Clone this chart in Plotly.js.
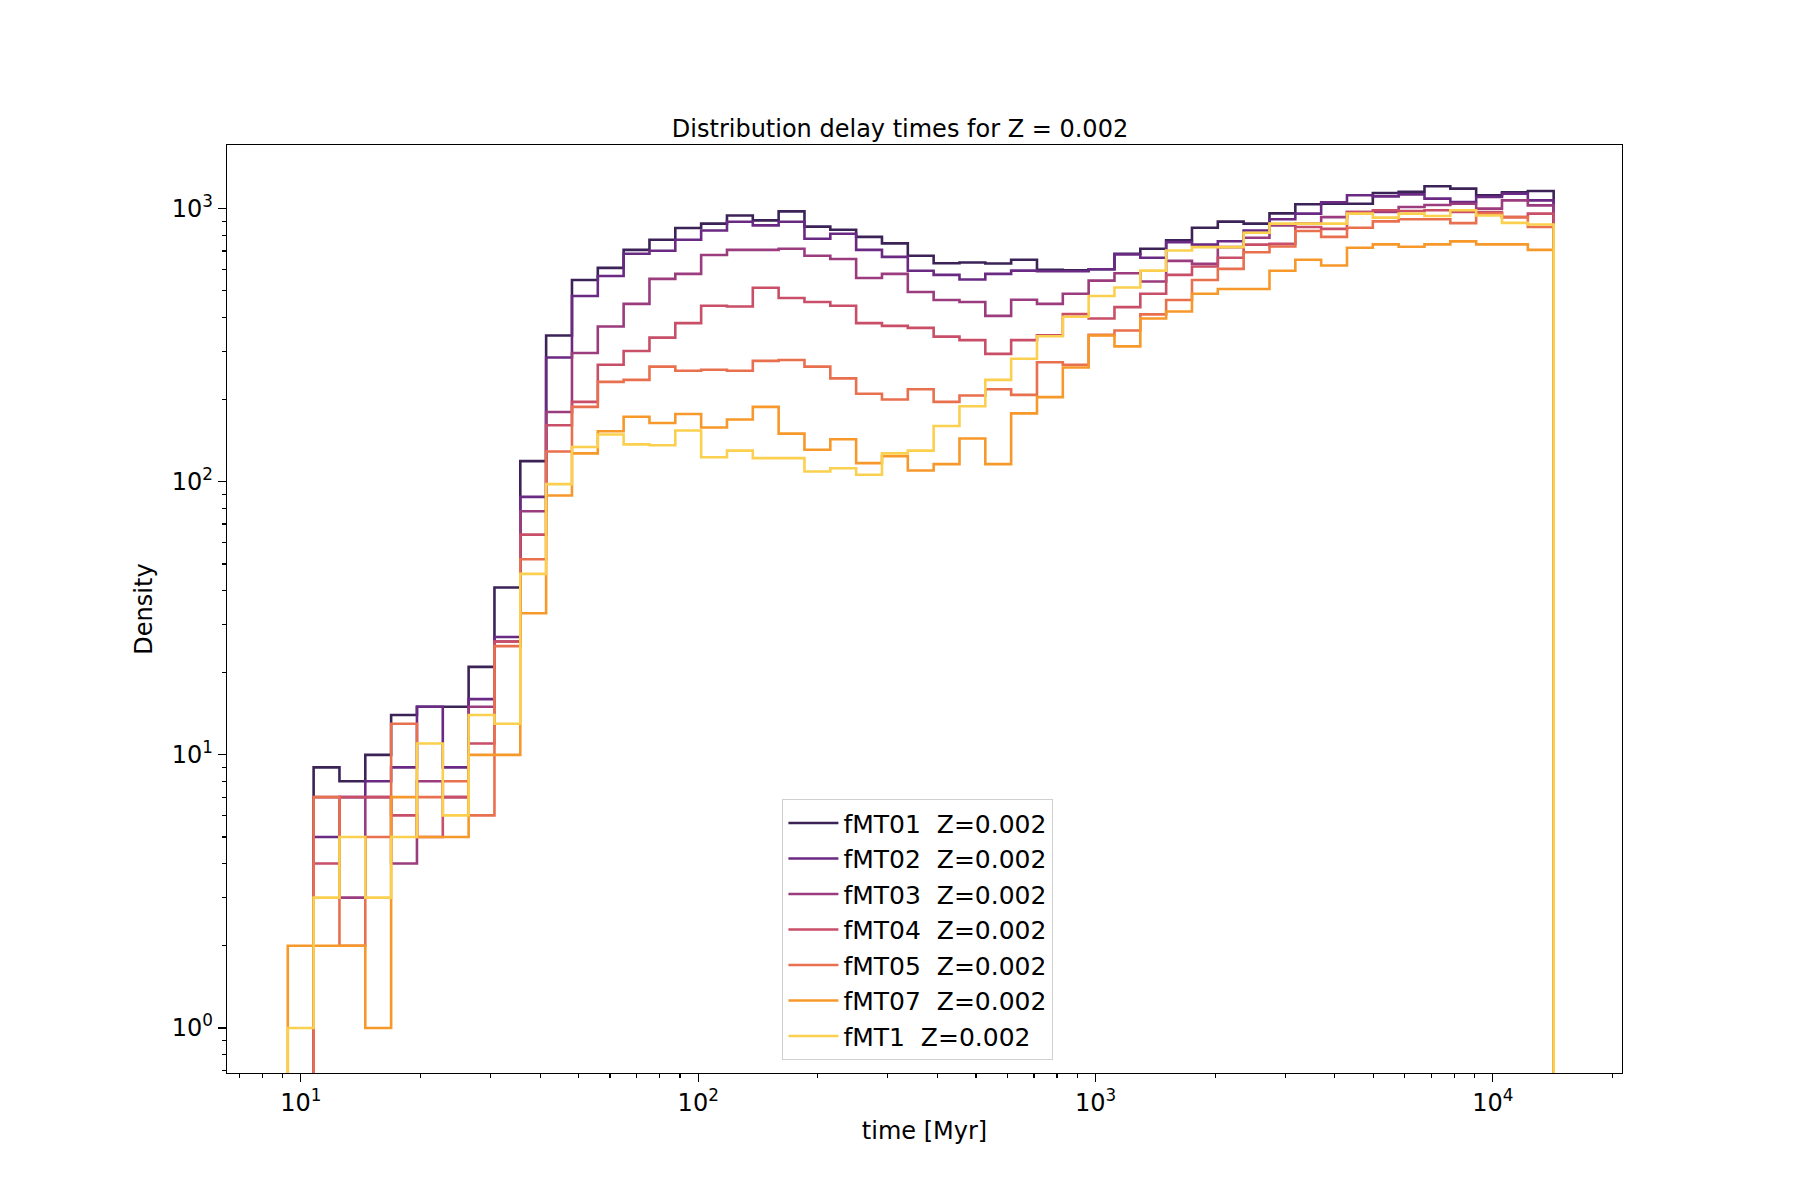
<!DOCTYPE html>
<html>
<head>
<meta charset="utf-8">
<script src="https://cdn.plot.ly/plotly-3.0.1.min.js"></script>
<style>body{margin:0;background:#fff}#chart{width:1800px;height:1200px}</style>
</head>
<body>
<div id="chart"></div>
<script>
// log-spaced bin edges (49 bins), as np.logspace would give
const logMin = 0.967, logMax = 4.153, nBins = 49;
const edges = [];
for (let i = 0; i <= nBins; i++) edges.push(Math.pow(10, logMin + (logMax - logMin) * i / nBins));

const names = ['fMT01  Z=0.002', 'fMT02  Z=0.002', 'fMT03  Z=0.002', 'fMT04  Z=0.002',
               'fMT05  Z=0.002', 'fMT07  Z=0.002', 'fMT1  Z=0.002'];
const colors = ['#3b2358', '#6a2a83', '#9a3c7e', '#c84f67', '#e9704f', '#f7982a', '#fbd04e'];

const fMT01 = [0, 9, 8, 10, 14, 15, 15, 21, 41, 119, 343, 548, 607, 706, 769, 849, 881, 944, 906, 977,
  859, 837, 788, 746, 672, 631, 635, 630, 650, 597, 594, 600, 684, 713, 765, 851, 896, 881, 961, 1038,
  1042, 1042, 1141, 1153, 1208, 1184, 1119, 1148, 1161];
const fMT02 = [0, 5, 7, 8, 9, 15, 9, 16, 27, 88, 285, 479, 567, 684, 701, 769, 832, 895, 868, 895,
  776, 809, 706, 666, 592, 572, 550, 577, 593, 590, 590, 600, 680, 661, 754, 738, 760, 832, 914, 959,
  1055, 1119, 1109, 1128, 1088, 1057, 1104, 1135, 1072];
const fMT03 = [0, 7, 3, 7, 4, 8, 7, 15, 26, 78, 180, 296, 370, 448, 553, 577, 676, 706, 706, 713,
  672, 654, 557, 577, 495, 463, 455, 405, 464, 448, 488, 545, 580, 541, 644, 628, 723, 782, 868, 881,
  931, 972, 972, 1014, 1031, 1042, 1000, 1072, 1028];
const fMT04 = [0, 4, 7, 7, 6, 5, 7, 11, 26, 64, 161, 196, 268, 301, 337, 381, 441, 438, 513, 471,
  455, 441, 381, 372, 366, 340, 330, 294, 330, 344, 411, 396, 436, 488, 572, 614, 661, 738, 743, 857,
  843, 972, 986, 980, 986, 972, 972, 931, 959];
const fMT05 = [0, 7, 2, 5, 13, 7, 8, 6, 25, 52, 129, 188, 232, 236, 264, 255, 257, 255, 277, 279,
  264, 239, 210, 200, 218, 196, 207, 218, 208, 274, 268, 345, 358, 410, 463, 548, 602, 692, 727, 828,
  788, 851, 898, 914, 914, 885, 960, 931, 857];
const fMT07 = [2, 2, 2, 1, 7, 5, 5, 10, 10, 33, 89, 127, 153, 173, 164, 177, 158, 169, 188, 150,
  131, 143, 117, 124, 110, 116, 144, 116, 178, 204, 262, 343, 313, 396, 420, 488, 508, 508, 592, 650,
  619, 719, 740, 725, 740, 759, 740, 740, 706];
const fMT1 = [1, 3, 5, 3, 5, 11, 6, 14, 13, 46, 98, 134, 149, 137, 136, 154, 123, 130, 122, 122,
  109, 112, 106, 127, 130, 160, 189, 236, 282, 341, 402, 479, 514, 593, 703, 723, 723, 816, 881, 881,
  881, 959, 927, 959, 940, 986, 944, 887, 875];
const series = [fMT01, fMT02, fMT03, fMT04, fMT05, fMT07, fMT1];

const floor = 1e-3; // empty bins drop below the axis, like matplotlib step outlines
const traces = series.map((vals, k) => {
  const x = [edges[0]], y = [floor];
  vals.forEach((v, i) => { x.push(edges[i]); y.push(v > 0 ? v : floor); });
  x.push(edges[nBins]); y.push(floor);
  return {x: x, y: y, mode: 'lines', line: {shape: 'hv', color: colors[k], width: 2.6},
          name: names[k], hoverinfo: 'skip'};
});

function minorVals(lo, hi) {
  const out = [];
  for (let d = lo; d <= hi; d++) for (let m = 2; m <= 9; m++) out.push(m * Math.pow(10, d));
  return out;
}
const tickFont = {family: 'DejaVu Sans', size: 24, color: '#000'};
const labelFont = {family: 'DejaVu Sans', size: 24, color: '#000'};

const layout = {
  width: 1800, height: 1200,
  margin: {l: 227, r: 178, t: 145, b: 127},
  paper_bgcolor: '#fff', plot_bgcolor: '#fff',
  title: {text: 'Distribution delay times for Z = 0.002', x: 0.5, xanchor: 'center',
          y: 1 - 137 / 1200, yanchor: 'bottom', font: labelFont},
  xaxis: {type: 'log', range: [0.814, 4.325], showgrid: false, zeroline: false,
          showline: true, mirror: true, linecolor: '#000', linewidth: 1.2,
          ticks: 'outside', ticklen: 8, tickwidth: 1.2, tickcolor: '#000',
          tickvals: [10, 100, 1000, 10000],
          ticktext: ['10<sup>1</sup>', '10<sup>2</sup>', '10<sup>3</sup>', '10<sup>4</sup>'],
          tickfont: tickFont,
          minor: {tickmode: 'array', tickvals: minorVals(0, 4), ticks: 'outside', ticklen: 4, tickcolor: '#000'},
          title: {text: 'time [Myr]', font: labelFont, standoff: 6}},
  yaxis: {type: 'log', range: [-0.165, 3.233], showgrid: false, zeroline: false,
          showline: true, mirror: true, linecolor: '#000', linewidth: 1.2,
          ticks: 'outside', ticklen: 8, tickwidth: 1.2, tickcolor: '#000',
          tickvals: [1, 10, 100, 1000],
          ticktext: ['10<sup>0</sup>', '10<sup>1</sup>', '10<sup>2</sup>', '10<sup>3</sup>'],
          tickfont: tickFont,
          minor: {tickmode: 'array', tickvals: minorVals(-1, 3), ticks: 'outside', ticklen: 4, tickcolor: '#000'},
          title: {text: 'Density', font: labelFont, standoff: 12}},
  showlegend: true,
  legend: {x: 0.398, y: 0.014, xanchor: 'left', yanchor: 'bottom',
           bgcolor: 'rgba(255,255,255,0.85)', bordercolor: '#d0d0d0', borderwidth: 1.2,
           font: {family: 'DejaVu Sans', size: 25, color: '#000'}, itemwidth: 50, tracegroupgap: 6}
};

Plotly.newPlot('chart', traces, layout, {displayModeBar: false, staticPlot: true});
</script>
</body>
</html>
